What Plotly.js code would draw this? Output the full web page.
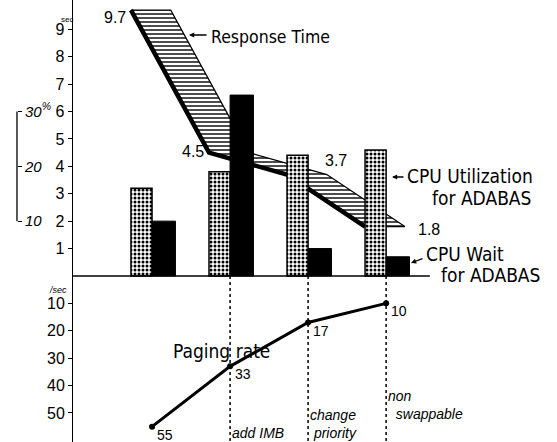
<!DOCTYPE html>
<html>
<head>
<meta charset="utf-8">
<script src="https://cdn.plot.ly/plotly-3.0.1.min.js"></script>
<style>html,body{margin:0;padding:0;background:#fff;}#chart{width:557px;height:442px;}</style>
</head>
<body>
<div id="chart"></div>
<script>
// ---- data ----
const steps = ['start', 'add IMB', 'change<br>&nbsp;priority', 'non<br>&nbsp;&nbsp;swappable'];
const responseTime = [9.7, 4.5, 3.7, 1.8];        // seconds
const cpuUtilization = [16, 19, 22, 23];          // % CPU utilization for ADABAS
const cpuWait = [10, 33, 5, 3.5];                  // % CPU wait for ADABAS
const pagingRate = [55, 33, 17, 10];               // pages / sec
const secTicks = [1, 2, 3, 4, 5, 6, 7, 8, 9];
const pagingTicks = [10, 20, 30, 40, 50];
const cpuTicks = [10, 20, 30];
const cpuTickText = ['10', '20', '30<sup>%</sup>'];

// ---- layout helpers ----
const FONT = 'Liberation Sans Narrow, DejaVu Sans Condensed, Liberation Sans, sans-serif';
const FONT_R = 'Liberation Sans, DejaVu Sans, sans-serif';
const xs = steps.map((s, i) => i + 1);
const ribbonLeft = xs.map(x => x - 0.27);
const ribbonRight = xs.map(x => x + 0.24);

const traces = [
  {
    type: 'bar', x: xs, y: cpuUtilization, yaxis: 'y3',
    offset: -0.27, width: 0.27,
    marker: {color: '#fff', line: {color: '#000', width: 1.5},
      pattern: {shape: '.', fgcolor: '#000', bgcolor: '#fff', size: 4, solidity: 0.45}},
    hoverinfo: 'skip', showlegend: false
  },
  {
    type: 'bar', x: xs, y: cpuWait, yaxis: 'y3',
    offset: 0, width: 0.3,
    marker: {color: '#000', line: {color: '#000', width: 1}},
    hoverinfo: 'skip', showlegend: false
  },
  {
    type: 'scatter', mode: 'lines',
    x: ribbonLeft.concat(ribbonRight.slice().reverse(), [ribbonLeft[0]]),
    y: responseTime.concat(responseTime.slice().reverse(), [responseTime[0]]),
    fill: 'toself', fillcolor: '#fff',
    fillpattern: {shape: '-', fgcolor: '#000', bgcolor: '#fff', size: 4, solidity: 0.35},
    line: {color: '#000', width: 1.2},
    hoverinfo: 'skip', showlegend: false
  },
  {
    type: 'scatter', mode: 'lines', x: ribbonLeft, y: responseTime,
    line: {color: '#000', width: 4.5},
    hoverinfo: 'skip', showlegend: false
  },
  {
    type: 'scatter', mode: 'lines+markers', x: xs, y: pagingRate, yaxis: 'y2',
    line: {color: '#000', width: 3}, marker: {color: '#000', size: 6},
    hoverinfo: 'skip', showlegend: false
  }
];

const shapes = [
  {type: 'line', xref: 'x', yref: 'y', x0: -0.013, x1: 4.56, y0: 0, y1: 0, line: {color: '#000', width: 1.5}},
  {type: 'line', xref: 'paper', yref: 'y3', x0: 0.0305, x1: 0.0305, y0: cpuTicks[0], y1: cpuTicks[cpuTicks.length - 1], line: {color: '#000', width: 1.3}}
];
xs.slice(1).forEach(x => shapes.push({
  type: 'line', xref: 'x', yref: 'y', x0: x, x1: x, y0: 0, y1: -6.1,
  line: {color: '#000', width: 1.5, dash: '3px,3px'}
}));

const ann = [];
function A(o) { ann.push(Object.assign({showarrow: false, font: {family: FONT, size: 19, color: '#000'}}, o)); }
// response time value labels
A({xref: 'x', yref: 'y', x: ribbonLeft[0], y: responseTime[0], text: String(responseTime[0]), xanchor: 'right', yanchor: 'middle', xshift: -3, yshift: -7, font: {family: FONT_R, size: 16, color: '#000'}});
A({xref: 'x', yref: 'y', x: ribbonLeft[1], y: responseTime[1], text: String(responseTime[1]), xanchor: 'right', yanchor: 'middle', xshift: -3, yshift: 1, font: {family: FONT_R, size: 16, color: '#000'}});
A({xref: 'x', yref: 'y', x: ribbonRight[2], y: responseTime[2], text: String(responseTime[2]), xanchor: 'left', yanchor: 'middle', xshift: -4, yshift: 14, font: {family: FONT_R, size: 16, color: '#000'}});
A({xref: 'x', yref: 'y', x: ribbonRight[3], y: responseTime[3], text: String(responseTime[3]), xanchor: 'left', yanchor: 'middle', xshift: 11, yshift: -3, font: {family: FONT_R, size: 16, color: '#000'}});
// paging labels
pagingRate.forEach((v, i) => A({xref: 'x', yref: 'y2', x: xs[i], y: v, text: String(v), xanchor: 'left', yanchor: 'middle', xshift: 3, yshift: -8, font: {family: FONT_R, size: 14, color: '#000'}}));
// step labels (vertical centres in pixels)
const stepLabelY = [0, 433, 424, 405];
steps.forEach((s, i) => { if (i > 0) A({xref: 'x', yref: 'paper', x: xs[i], y: 1 - stepLabelY[i] / 442, text: s, xanchor: 'left', yanchor: 'middle', align: 'left', xshift: 0, font: {family: FONT_R, size: 14, style: 'italic', color: '#000'}}); });
// series labels
A({xref: 'paper', yref: 'paper', x: 209 / 557, y: 1 - 37 / 442, text: 'Response Time', xanchor: 'left', yanchor: 'middle', font: {family: FONT, size: 17.5, color: '#000'}});
A({xref: 'paper', yref: 'paper', x: 405 / 557, y: 1 - 176 / 442, text: 'CPU Utilization', xanchor: 'left', yanchor: 'middle'});
A({xref: 'paper', yref: 'paper', x: 430 / 557, y: 1 - 198 / 442, text: 'for ADABAS', xanchor: 'left', yanchor: 'middle'});
A({xref: 'paper', yref: 'paper', x: 424 / 557, y: 1 - 254 / 442, text: 'CPU Wait', xanchor: 'left', yanchor: 'middle'});
A({xref: 'paper', yref: 'paper', x: 439 / 557, y: 1 - 275 / 442, text: 'for ADABAS', xanchor: 'left', yanchor: 'middle'});
A({xref: 'paper', yref: 'paper', x: 171 / 557, y: 1 - 351 / 442, text: 'Paging rate', xanchor: 'left', yanchor: 'middle', font: {family: FONT, size: 19, color: '#000'}});
A({xref: 'paper', yref: 'paper', x: 59 / 557, y: 1 - 20 / 442, text: 'sec', xanchor: 'left', yanchor: 'middle', font: {family: FONT_R, size: 8, color: '#000'}});
A({xref: 'paper', yref: 'paper', x: 47 / 557, y: 1 - 290 / 442, text: '/sec', xanchor: 'left', yanchor: 'middle', font: {family: FONT_R, size: 9, style: 'italic', color: '#000'}});
// arrows
function Arrow(xh, yh, xt, yt) {
  ann.push({xref: 'paper', yref: 'paper', x: xh / 557, y: 1 - yh / 442, ax: xt - xh, ay: yt - yh, text: '', showarrow: true, arrowhead: 2, arrowsize: 0.8, arrowwidth: 1.3, arrowcolor: '#000'});
}
Arrow(189, 35, 208, 35);
Arrow(392, 177, 405, 177);
Arrow(411, 263, 424, 258);

const layout = {
  width: 557, height: 442,
  margin: {l: 0, r: 0, t: 0, b: 0, pad: 0},
  paper_bgcolor: '#fff', plot_bgcolor: '#fff',
  showlegend: false,
  barmode: 'overlay',
  xaxis: {domain: [73 / 557, 1], range: [-0.013, 6.19], visible: false, fixedrange: true},
  yaxis: {range: [-6.06, 10.07], tickvals: secTicks, showline: true, linecolor: '#000', linewidth: 1.5,
    ticks: 'outside', ticklen: 4, tickcolor: '#000', showgrid: false, zeroline: false,
    tickfont: {family: FONT_R, size: 16, color: '#000'}},
  yaxis2: {overlaying: 'y', anchor: 'x', side: 'left', range: [60.6, -100.7], tickvals: pagingTicks,
    showline: false, ticks: 'outside', ticklen: 4, tickcolor: '#000', showgrid: false, zeroline: false,
    tickfont: {family: FONT_R, size: 16, color: '#000'}},
  yaxis3: {overlaying: 'y', anchor: 'free', position: 0.0305, side: 'right', range: [-30.3, 50.35],
    tickvals: cpuTicks, ticktext: cpuTickText, showline: false, ticks: 'outside', ticklen: 4, tickcolor: '#000',
    showgrid: false, zeroline: false, tickfont: {family: FONT_R, size: 15, style: 'italic', color: '#000'}},
  shapes: shapes,
  annotations: ann
};

Plotly.newPlot('chart', traces, layout, {staticPlot: true, displayModeBar: false});
</script>
</body>
</html>
